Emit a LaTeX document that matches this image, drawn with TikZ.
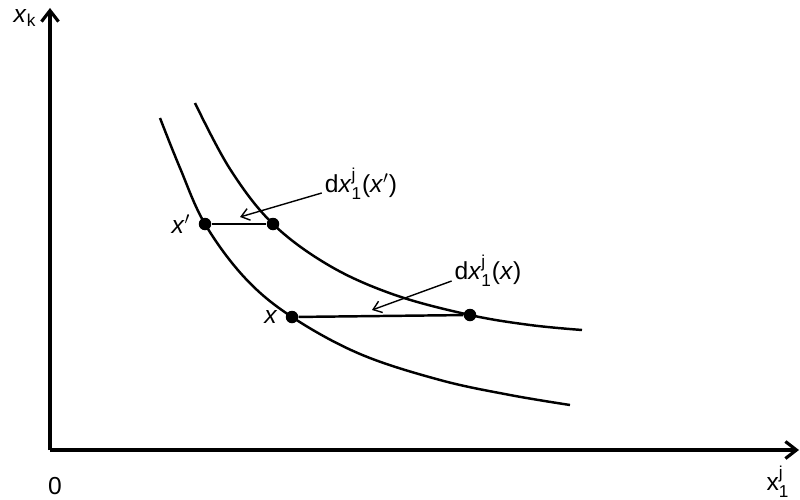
\documentclass[tikz,border=0pt]{standalone}
\usepackage{amsmath}
\usepackage{fontspec}
\setmainfont{Liberation Sans}
\usepackage{tikz}
\usetikzlibrary{calc, arrows.meta, positioning}
\tikzset{
  dot/.style={circle, fill=black, inner sep=0pt, minimum size=0.25cm},
  lbl/.style={font=\fontsize{14}{16}\selectfont, inner sep=1pt},
  curve/.style={line width=1.4pt},
  ptr/.style={line width=0.8pt, -{Straight Barb[length=1.6mm, width=2.4mm]}}
}
\newcommand{\xv}{\textit{x}}
\newcommand{\dxj}{d\xv$^{\text{j}}_{\text{1}}$}

\begin{document}
\begin{tikzpicture}
  \useasboundingbox (0,0) rectangle (16,9.98);
  \coordinate (O) at (1.0,0.98);
  \coordinate (ytop) at (1.0,9.82);
  \coordinate (xend) at (15.98,0.98);
  \draw[line width=1.8pt, -{Straight Barb[length=2.2mm, width=3.4mm]}] (O) -- (ytop);
  \draw[line width=1.8pt, -{Straight Barb[length=2.2mm, width=3.4mm]}] (O) -- (xend);
  \node[lbl] (lk) at (0.5,9.62) {\xv$_{\text{k}}$};
  \node[lbl] (l0) at (1.1,0.26) {0};
  \node[lbl] (lj) at (15.56,0.34) {x$^{\text{j}}_{\text{1}}$};

  \draw[curve] plot[smooth, tension=0.6] coordinates {(3.2,7.62) (3.6,6.62) (4.1,5.5) (4.9,4.42) (5.84,3.64) (7.2,2.9) (8.8,2.38) (10.2,2.08) (11.4,1.88)};
  \draw[curve] plot[smooth, tension=0.6] coordinates {(3.9,7.92) (4.6,6.6) (5.46,5.5) (6.6,4.66) (7.9,4.08) (9.4,3.68) (10.6,3.48) (11.64,3.38)};

  \node[dot] (xp) at (4.1,5.5) {};
  \node[dot] (xpr) at (5.46,5.5) {};
  \node[dot] (x) at (5.84,3.64) {};
  \node[dot] (xr) at (9.4,3.68) {};
  \draw[curve] (xp) -- (xpr);
  \draw[curve] (x) -- (xr);
  \node[lbl, left=0.12cm of xp] (lxp) {\xv$'$};
  \node[lbl, left=0.12cm of x] (lx) {\xv};

  \node[lbl] (dxp) at (7.22,6.3) {\dxj(\xv$'$)};
  \node[lbl] (dx) at (9.76,4.56) {\dxj(\xv)};
  \coordinate (tp) at (4.8,5.64);
  \coordinate (t) at (7.44,3.78);
  \draw[ptr] ($(dxp.west)+(-0.02,-0.18)$) -- (tp);
  \draw[ptr] ($(dx.west)+(-0.02,-0.2)$) -- (t);
\end{tikzpicture}
\end{document}
